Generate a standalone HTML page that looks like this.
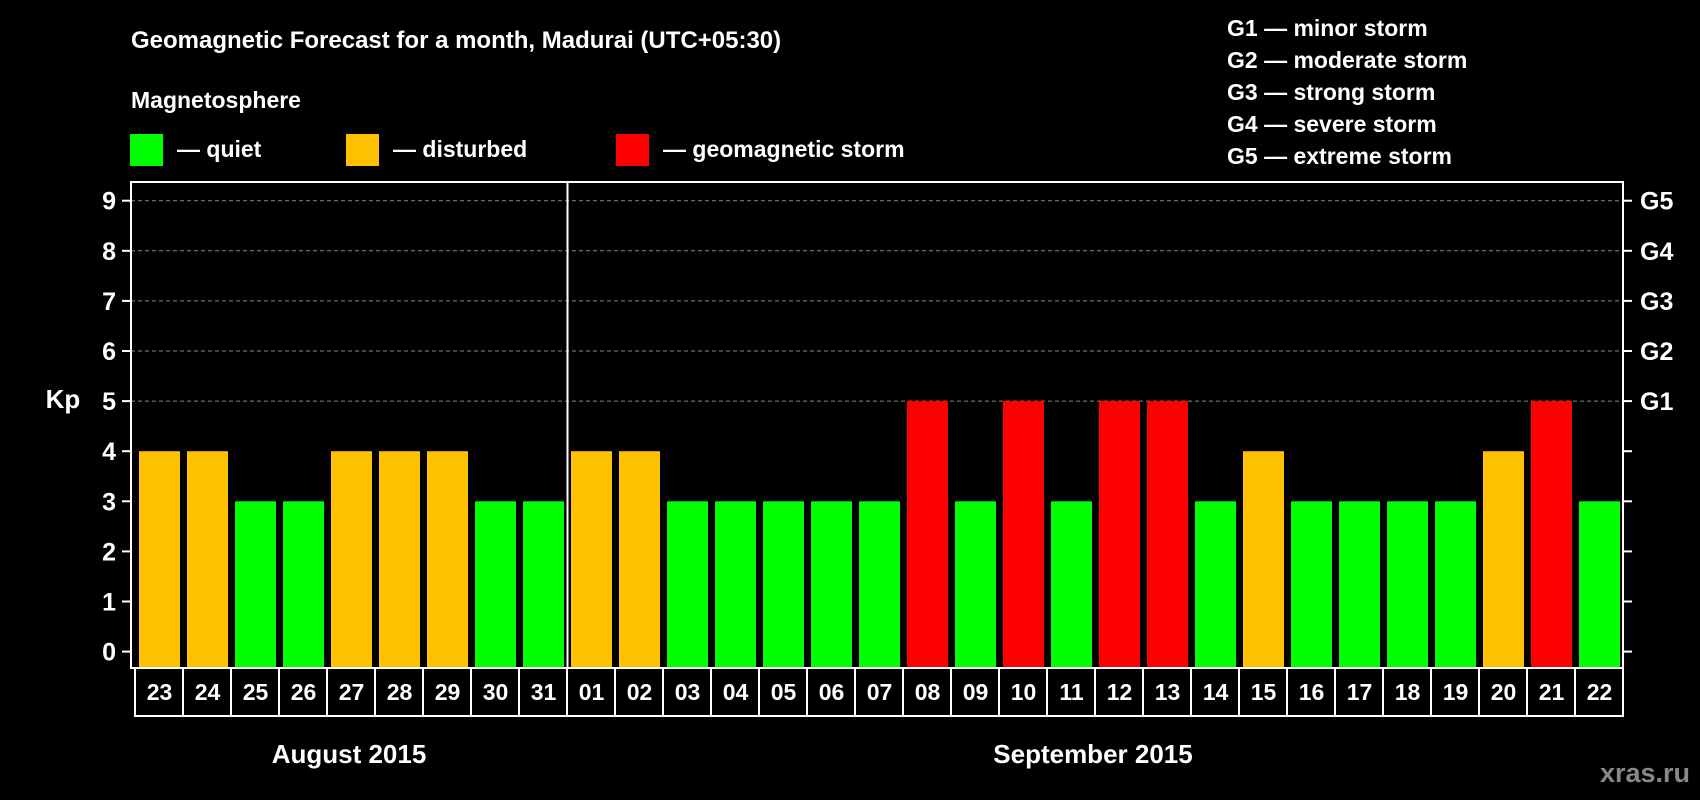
<!DOCTYPE html>
<html><head><meta charset="utf-8"><style>
html,body{margin:0;padding:0;background:#000;}
svg{display:block;font-family:"Liberation Sans",Arial,sans-serif;font-weight:bold;}
</style></head><body>
<svg id="chart" width="1700" height="800" viewBox="0 0 1700 800">
<rect width="1700" height="800" fill="#000"/>
<text x="131" y="48" fill="#fff" font-size="24">Geomagnetic Forecast for a month, Madurai (UTC+05:30)</text>
<text x="131" y="108" fill="#fff" font-size="23">Magnetosphere</text>
<g><rect x="130" y="134" width="33" height="32" fill="#00ff00"/><text x="177" y="157" fill="#fff" font-size="23">— quiet</text></g>
<g><rect x="346" y="134" width="33" height="32" fill="#ffc000"/><text x="393" y="157" fill="#fff" font-size="23">— disturbed</text></g>
<g><rect x="616" y="134" width="33" height="32" fill="#ff0000"/><text x="663" y="157" fill="#fff" font-size="23">— geomagnetic storm</text></g>
<g fill="#fff" font-size="23">
<text x="1227" y="36">G1 — minor storm</text>
<text x="1227" y="68">G2 — moderate storm</text>
<text x="1227" y="100">G3 — strong storm</text>
<text x="1227" y="132">G4 — severe storm</text>
<text x="1227" y="164">G5 — extreme storm</text>
</g>
<text x="63" y="408" fill="#fff" font-size="26" text-anchor="middle">Kp</text>
<g id="plot"></g>
<text x="349" y="763" fill="#fff" font-size="26" text-anchor="middle">August 2015</text>
<text x="1093" y="763" fill="#fff" font-size="26" text-anchor="middle">September 2015</text>
<text x="1690" y="782" fill="#888" font-size="27" text-anchor="end">xras.ru</text>
</svg>
<script>
const days = ["23","24","25","26","27","28","29","30","31","01","02","03","04","05","06","07","08","09","10","11","12","13","14","15","16","17","18","19","20","21","22"];
const kpValues = [4,4,3,3,4,4,4,3,3,4,4,3,3,3,3,3,5,3,5,3,5,5,3,4,3,3,3,3,4,5,3];
const yTicks = [0,1,2,3,4,5,6,7,8,9];
const gLabels = ["G1","G2","G3","G4","G5"];
const gLevels = [5,6,7,8,9];

const NS="http://www.w3.org/2000/svg";
const g=document.getElementById('plot');
const plotL=131,plotR=1623,plotT=182,plotB=668,boxB=716;
const y=v=>651.6-v*50.1;
const step=48, x0=139, bw=41;
const x=i=>x0+i*step;
function mk(tag,attrs){const e=document.createElementNS(NS,tag);for(const k in attrs)e.setAttribute(k,attrs[k]);g.appendChild(e);return e;}
const color=v=>v>=5?"#ff0000":(v>=4?"#ffc000":"#00ff00");

yTicks.forEach(t=>{
  if(t>=5){const l=mk('line',{x1:plotL,x2:plotR,y1:y(t),y2:y(t),stroke:'#888','stroke-width':1,'stroke-dasharray':'4,3'});
  
  }
  const tk=mk('line',{x1:plotL-9,x2:plotL,y1:y(t),y2:y(t),stroke:'#fff','stroke-width':2});
  
  
  const tr=mk('line',{x1:plotR,x2:plotR+9,y1:y(t),y2:y(t),stroke:'#fff','stroke-width':2});
  
  
  const lb=mk('text',{x:116,y:y(t)+9,fill:'#fff','font-size':25,'text-anchor':'end'});
  lb.textContent=t;
  
  
});
gLabels.forEach((s,i)=>{
  const lb=mk('text',{x:1640,y:y(gLevels[i])+9,fill:'#fff','font-size':25});
  lb.textContent=s;
  
  
});
kpValues.forEach((v,i)=>{
  const r=mk('rect',{x:x(i),y:y(v),width:bw,height:plotB-1-y(v),fill:color(v)});
  
  
  const bx=mk('rect',{x:x(i)-4,y:plotB,width:step,height:boxB-plotB,fill:'none',stroke:'#fff','stroke-width':2});
  
  
  const t=mk('text',{x:x(i)+bw/2,y:700,fill:'#fff','font-size':23,'text-anchor':'middle'});
  t.textContent=days[i];
  
  
});
const frame=mk('rect',{x:plotL,y:plotT,width:plotR-plotL,height:plotB-plotT,fill:'none',stroke:'#fff','stroke-width':2});


const di=days.indexOf("01");
const dv=mk('line',{x1:x(di)-3.5,x2:x(di)-3.5,y1:plotT,y2:plotB,stroke:'#fff','stroke-width':2});


</script>
</body></html>
